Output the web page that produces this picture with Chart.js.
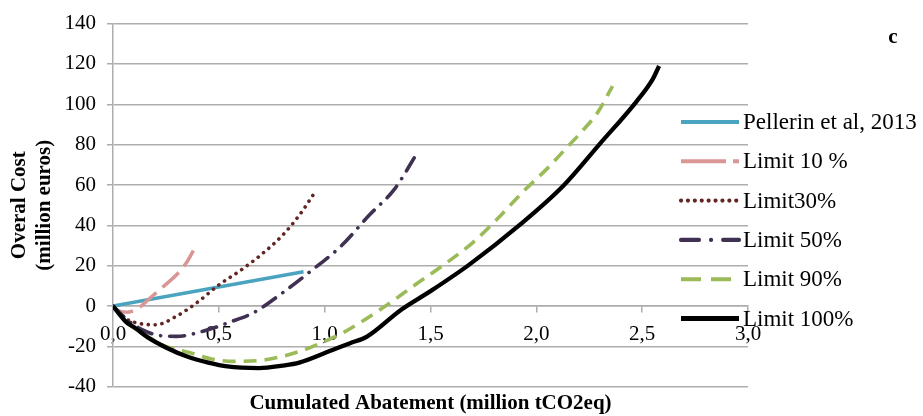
<!DOCTYPE html>
<html>
<head>
<meta charset="utf-8">
<script src="https://cdn.jsdelivr.net/npm/chart.js@4.4.1/dist/chart.umd.min.js"></script>
<style>
  html, body { margin: 0; padding: 0; background: #fff; }
</style>
</head>
<body>
<canvas id="chart" width="923" height="416"></canvas>
<script>
// Overall cost vs cumulated abatement, panel c
const seriesLabels = ['Pellerin et al, 2013', 'Limit 10 %', 'Limit30%', 'Limit 50%', 'Limit 90%', 'Limit 100%'];

// [abatement (MtCO2eq), cost (M euros)]
const pellerin = [[0, 0], [0.9, 17]];
const limit10 = [[0, 0], [0.03, -2.5], [0.07, -3], [0.12, -1], [0.17, 3.5], [0.23, 9], [0.3, 15.5], [0.35, 22], [0.38, 27.5]];
const limit30 = [[0, 0], [0.05, -5.5], [0.1, -8], [0.2, -9.3], [0.3, -5], [0.4, 2], [0.5, 10.5], [0.6, 17.5], [0.7, 25.5], [0.8, 35], [0.88, 45], [0.945, 55]];
const limit50 = [[0, 0], [0.07, -7], [0.14, -11.8], [0.2, -14.2], [0.3, -15], [0.44, -12], [0.55, -8], [0.66, -3.5], [0.8, 6.5], [0.93, 17], [1.08, 30], [1.21, 45], [1.33, 58], [1.435, 75.5]];
const limit90 = [[0, 0], [0.06, -7.6], [0.17, -15.6], [0.25, -20], [0.36, -23], [0.47, -26.3], [0.57, -27.4], [0.72, -26.6], [0.88, -22.5], [1.0, -17.5], [1.09, -13], [1.28, -0.5], [1.42, 10], [1.55, 19.5], [1.7, 31.5], [1.8, 41.5], [1.95, 58], [2.05, 68], [2.13, 77], [2.21, 86], [2.29, 96], [2.36, 109]];
const limit100 = [[0, 0], [0.03, -4], [0.06, -7.7], [0.1, -10.5], [0.17, -15.9], [0.25, -20.5], [0.35, -25], [0.45, -28], [0.54, -29.9], [0.69, -30.7], [0.8, -29.5], [0.88, -28], [1.04, -21.6], [1.12, -18.4], [1.2, -15.1], [1.36, -1.9], [1.5, 7.4], [1.68, 20.3], [1.92, 40.1], [2.13, 59.9], [2.3, 80.4], [2.47, 101], [2.55, 112.5], [2.58, 119]];

const xRange = [0, 3];
const yRange = [-40, 140];

const SERIF = '"Liberation Serif", "Times New Roman", serif';
const GRID = '#adadad';

function pts(arr) { return arr.map(p => ({ x: p[0], y: p[1] })); }

const styles = [
  { color: '#4aa3bf', width: 3.5, dash: [], cap: 'butt', legendDash: [] },
  { color: '#d99694', width: 3.5, dash: [22, 8], cap: 'butt', legendDash: [45, 7] },
  { color: '#632523', width: 3.6, dash: [0.1, 6.8], cap: 'round', legendDash: [0.1, 6.8] },
  { color: '#403152', width: 3.6, dash: [15, 9, 0.1, 9], cap: 'round', legendDash: [18, 12, 0.1, 12] },
  { color: '#9bbb59', width: 3.6, dash: [13, 8], cap: 'butt', legendDash: [20, 10] },
  { color: '#000000', width: 4.3, dash: [], cap: 'butt', legendDash: [] }
];

const seriesData = [pellerin, limit10, limit30, limit50, limit90, limit100];

const datasets = seriesData.map((d, i) => ({
  label: seriesLabels[i],
  data: pts(d),
  borderColor: styles[i].color,
  backgroundColor: styles[i].color,
  borderWidth: styles[i].width,
  borderDash: styles[i].dash,
  borderCapStyle: styles[i].cap,
  legendDash: styles[i].legendDash,
  pointRadius: 0,
  fill: false,
  cubicInterpolationMode: 'monotone',
  order: seriesData.length - i
}));

// legend sits over the right end of the plot, like the original
const sideLegend = {
  id: 'sideLegend',
  afterDraw(chart) {
    const ctx = chart.ctx;
    ctx.save();
    chart.data.datasets.forEach((ds, i) => {
      const y = 122 + i * 39.3;
      ctx.beginPath();
      ctx.strokeStyle = ds.borderColor;
      ctx.lineWidth = ds.borderWidth + 0.5;
      ctx.lineCap = ds.borderCapStyle;
      ctx.setLineDash(ds.legendDash);
      ctx.moveTo(681, y);
      ctx.lineTo(739, y);
      ctx.stroke();
      ctx.setLineDash([]);
      ctx.fillStyle = '#000';
      ctx.font = '23px ' + SERIF;
      ctx.textBaseline = 'middle';
      ctx.textAlign = 'left';
      ctx.fillText(ds.label, 743, y + 1);
    });
    ctx.font = 'bold 21px ' + SERIF;
    ctx.textAlign = 'center';
    ctx.fillText('c', 893, 38);
    ctx.restore();
  }
};

new Chart(document.getElementById('chart'), {
  type: 'line',
  data: { datasets },
  plugins: [sideLegend],
  options: {
    responsive: false,
    animation: false,
    layout: { padding: { top: 18, right: 175, bottom: 0, left: 0 } },
    plugins: {
      legend: { display: false },
      tooltip: { enabled: false },
      title: {
        display: true,
        position: 'bottom',
        fullSize: false,
        text: 'Cumulated Abatement (million tCO2eq)',
        color: '#000',
        font: { family: SERIF, size: 21, weight: 'bold', lineHeight: 1.2 },
        padding: { top: 4, bottom: 0 }
      }
    },
    scales: {
      x: {
        type: 'linear',
        position: { y: 0 },
        min: xRange[0],
        max: xRange[1],
        grid: { drawOnChartArea: false, drawTicks: true, tickLength: 6, color: GRID, lineWidth: 1.5 },
        border: { color: GRID, width: 1.5 },
        ticks: {
          stepSize: 0.5,
          color: '#000',
          padding: 10,
          maxRotation: 0,
          font: { family: SERIF, size: 21 },
          callback: v => v.toFixed(1).replace('.', ',')
        }
      },
      y: {
        min: yRange[0],
        max: yRange[1],
        afterFit: s => { s.width = 113; },
        grid: { color: GRID, lineWidth: 1.5, tickLength: 6 },
        border: { color: GRID, width: 1.5 },
        ticks: {
          stepSize: 20,
          color: '#000',
          padding: 11,
          font: { family: SERIF, size: 21 }
        },
        title: {
          display: true,
          text: ['Overal Cost', '(million euros)'],
          color: '#000',
          font: { family: SERIF, size: 21, weight: 'bold', lineHeight: 1.2 },
          padding: { top: 7, bottom: 0 }
        }
      }
    }
  }
});
</script>
</body>
</html>
